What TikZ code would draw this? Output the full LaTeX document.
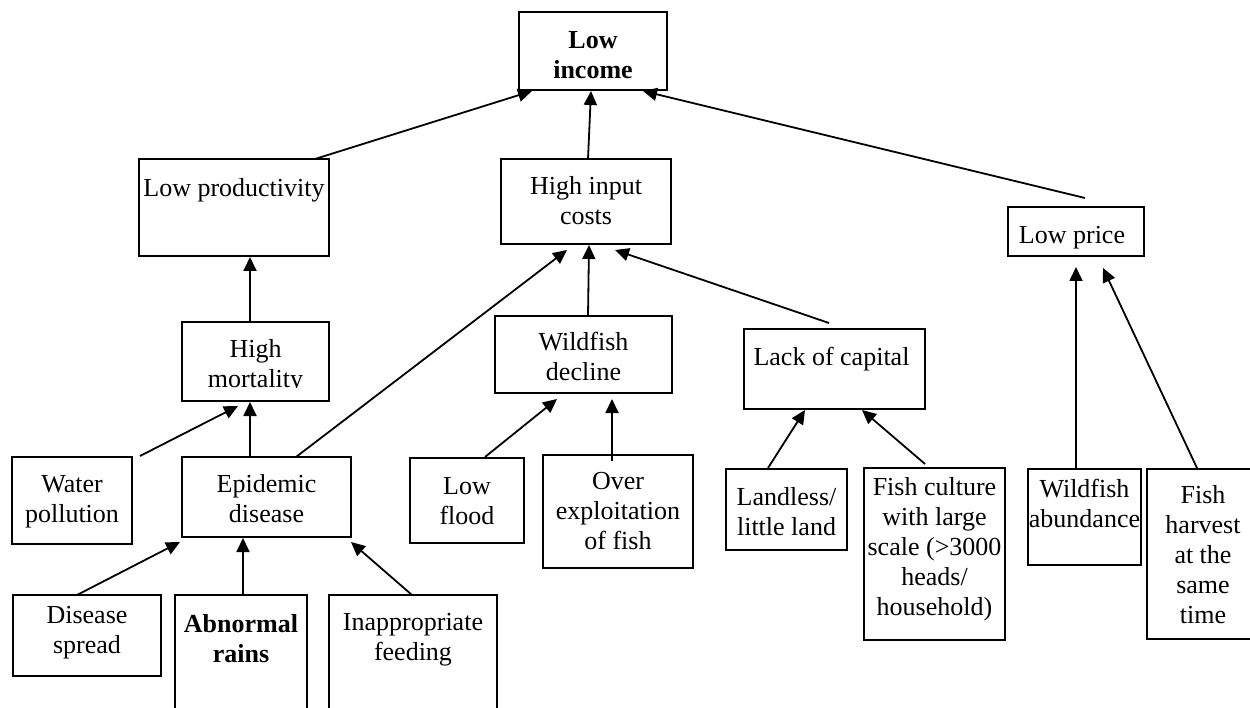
\documentclass[tikz,border=0pt]{standalone}
\usepackage{fontspec}
\setmainfont{Liberation Serif}
\usetikzlibrary{arrows.meta,calc}
% strut that fixes the height of a first text line
\newcommand\hstrut{\rule{0pt}{21pt}}
\begin{document}
\begin{tikzpicture}[x=1pt,y=-1pt,
  box/.style={draw, line width=2pt, outer sep=0pt, inner sep=0pt},
  txt/.style={anchor=north, align=center, inner sep=0pt, font=\fontsize{26}{30}\selectfont},
  link/.style={line width=1.8pt, -{Triangle[length=14pt,width=13pt]}},
]
\useasboundingbox (0,0) rectangle (1250,708);
\fill[white] (0,0) rectangle (1250,708);
\clip (0,0) rectangle (1250,708);

% top level
\node[box, minimum width=148pt, minimum height=78pt,
  label={[txt,yshift=-15pt]north:{\hstrut\textbf{Low}\\\textbf{income}}}] (inc) at (593,51) {};

% second level
\node[box, minimum width=190pt, minimum height=97pt,
  label={[txt,yshift=-16pt]north:{\hstrut Low productivity}}] (prod) at (234,207.5) {};
\node[box, minimum width=170pt, minimum height=85pt,
  label={[txt,yshift=-14pt]north:{\hstrut High input\\costs}}] (cost) at (586,201.5) {};
\node[box, minimum width=136pt, minimum height=49pt,
  label={[txt,yshift=-15pt,xshift=-4pt]north:{\hstrut Low price}}] (price) at (1076,231.5) {};

% third level
\node[box, minimum width=147pt, minimum height=79pt] (mort) at (255.5,361.5) {};
\begin{scope}
  \clip (170,322) rectangle (340,388);
  \node[txt] (mortText) at ($(mort.north)+(0,14)$) {\hstrut High\\mortality};
\end{scope}
\node[box, minimum width=177pt, minimum height=77pt,
  label={[txt,yshift=-13pt]north:{\hstrut Wildfish\\decline}}] (wdec) at (583.5,354.5) {};
\node[box, minimum width=181pt, minimum height=80pt,
  label={[txt,yshift=-15pt,xshift=-3pt]north:{\hstrut Lack of capital}}] (cap) at (834.5,369) {};

% fourth level
\node[box, minimum width=120pt, minimum height=87pt,
  label={[txt,yshift=-14pt]north:{\hstrut Water\\pollution}}] (wat) at (72,500.5) {};
\node[box, minimum width=169pt, minimum height=80pt,
  label={[txt,yshift=-14pt]north:{\hstrut Epidemic\\disease}}] (epi) at (266.5,497) {};
\node[box, minimum width=114pt, minimum height=85pt,
  label={[txt,yshift=-15pt]north:{\hstrut Low\\flood}}] (flood) at (467,500.5) {};
\node[box, minimum width=150pt, minimum height=113pt,
  label={[txt,yshift=-13pt]north:{\hstrut Over\\exploitation\\of fish}}] (over) at (618,511.5) {};
\node[box, minimum width=121pt, minimum height=81pt,
  label={[txt,yshift=-15pt]north:{\hstrut Landless/\\little land}}] (land) at (786.5,509.5) {};
\node[box, minimum width=141pt, minimum height=172pt,
  label={[txt,yshift=-6pt]north:{\hstrut Fish culture\\with large\\scale (>3000\\heads/\\household)}}] (fcul) at (934.5,554) {};
\node[box, minimum width=113pt, minimum height=96pt,
  label={[txt,yshift=-7pt]north:{\hstrut Wildfish\\abundance}}] (wab) at (1084.5,517) {};
\node[box, minimum width=112pt, minimum height=170pt,
  label={[txt,yshift=-13pt]north:{\hstrut Fish\\harvest\\at the\\same\\time}}] (harv) at (1203,554) {};

% bottom level
\node[box, minimum width=148pt, minimum height=81pt,
  label={[txt,yshift=-7pt]north:{\hstrut Disease\\spread}}] (dis) at (87,635.5) {};
\node[box, minimum width=132pt, minimum height=145pt,
  label={[txt,yshift=-16pt]north:{\hstrut\textbf{Abnormal}\\\textbf{rains}}}] (abn) at (241,667.5) {};
\node[box, minimum width=168pt, minimum height=145pt,
  label={[txt,yshift=-14pt]north:{\hstrut Inappropriate\\feeding}}] (inap) at (413,667.5) {};

% causal links
\draw[link] ($(prod.north)+(81,0)$) -- ($(inc.south)+(-61,1)$);
\draw[link] ($(cost.north)+(2,0)$) -- ($(inc.south)+(-2,1)$);
\draw[link] ($(price.north)+(9,-9)$) -- ($(inc.south)+(50,1)$);

\draw[link] ($(mort.north)+(-5.5,0)$) -- ($(prod.south)+(16,1)$);
\draw[link] ($(epi.north)+(-16.5,0)$) -- ($(mort.south)+(-5.5,1)$);
\draw[link] ($(wat.north)+(68,-1)$) -- ($(mort.south)+(-17.5,5)$);

\draw[link] ($(epi.north)+(29.5,0)$) -- ($(cost.south)+(-19,6)$);
\draw[link] ($(wdec.north)+(4.5,0)$) -- ($(cost.south)+(3,1)$);
\draw[link] ($(cap.north)+(-5.5,-6)$) -- ($(cost.south)+(29,6)$);

\draw[link] ($(flood.north)+(18,-1)$) -- ($(wdec.south)+(-26.5,6)$);
\draw[link] ($(over.north)+(-6,6)$) -- ($(wdec.south)+(28.5,6)$);

\draw[link] ($(land.north)+(-18.5,-1)$) -- ($(cap.south)+(-29.5,1)$);
\draw[link] ($(fcul.north)+(-9.5,-4)$) -- ($(cap.south)+(27.5,1)$);

\draw[link] ($(wab.north)+(-8.5,0)$) -- ($(price.south)+(0,11)$);
\draw[link] ($(harv.north)+(-6,-1)$) -- ($(price.south)+(27,12)$);

\draw[link] ($(dis.north)+(-10,0)$) -- ($(epi.south)+(-86.5,5)$);
\draw[link] ($(abn.north)+(2,0)$) -- ($(epi.south)+(-23.5,1)$);
\draw[link] ($(inap.north)+(-1,0)$) -- ($(epi.south)+(84.5,5)$);
\end{tikzpicture}
\end{document}
